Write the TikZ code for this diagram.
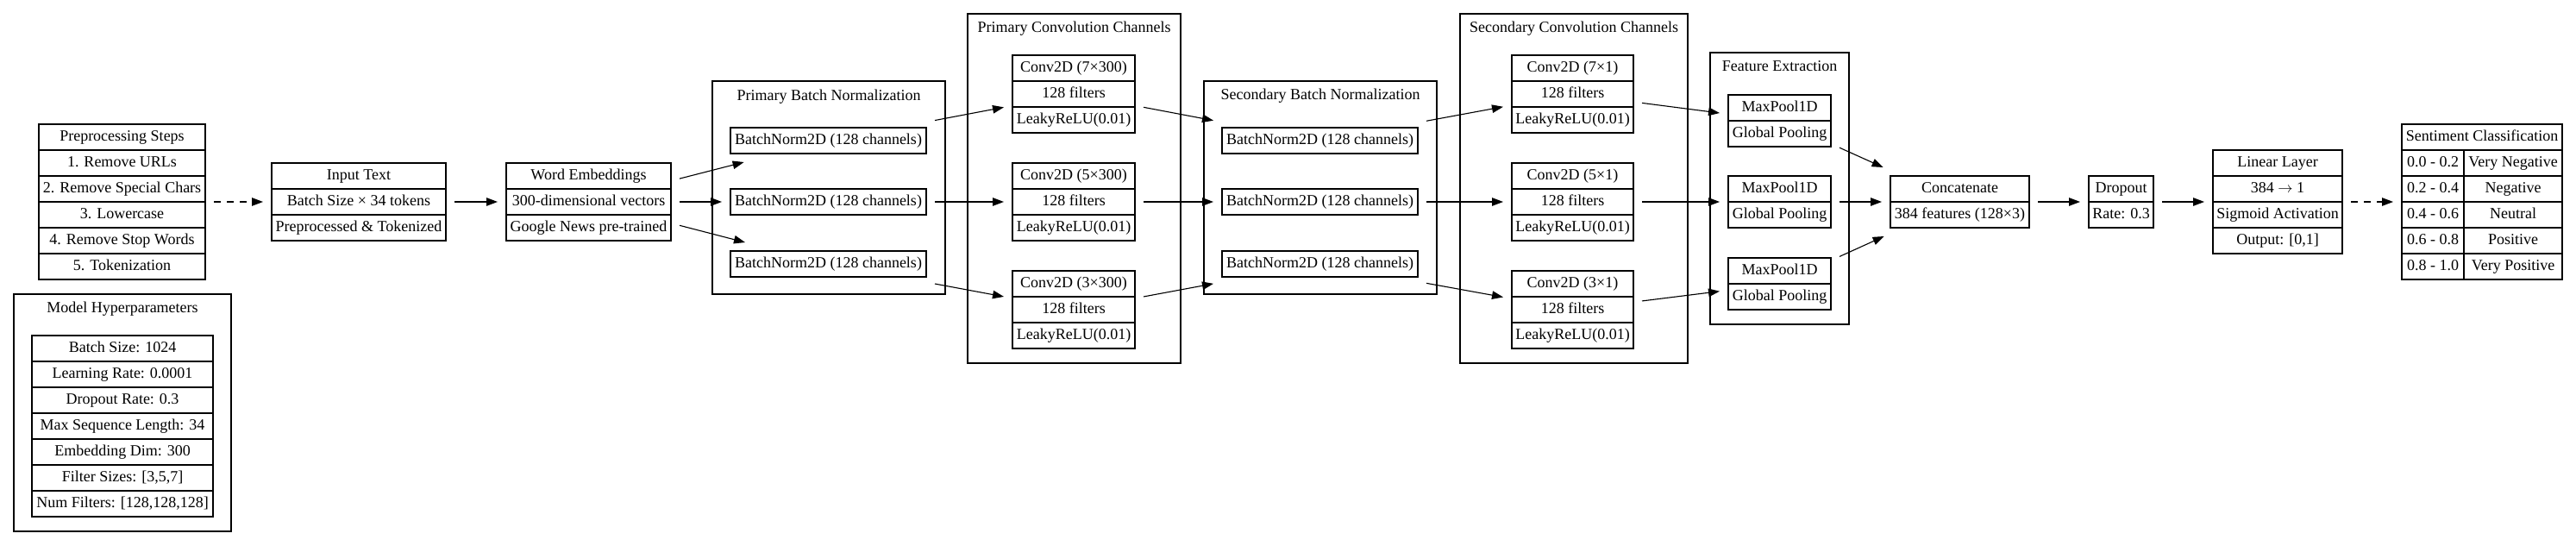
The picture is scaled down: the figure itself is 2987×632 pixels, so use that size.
\documentclass[tikz,border=0pt]{standalone}
\usepackage{fontspec}
\setmainfont{Liberation Serif}
\usetikzlibrary{arrows.meta,fit}

% table of stacked rows: name, centre x, top y, width, rows
\newcommand{\rowtab}[5]{%
  \foreach \txt [count=\i] in {#5} {
    \node[cell,minimum width=#4pt] (#1-\i) at (#2,#3+30*\i-15) {\txt};
    \coordinate (#1-end) at (#2,#3+30*\i);
  }
  \node[grp,fit=(#1-1)(#1-end)] (#1) {};
}

\begin{document}
\begin{tikzpicture}[x=1pt,y=-1pt,
  font=\fontsize{18}{21.6}\selectfont,
  cell/.style={draw,line width=1.1pt,minimum height=30pt,inner sep=0pt,outer sep=0pt,text height=12.5pt,text depth=4pt},
  grp/.style={inner sep=0pt,outer sep=10pt},
  clus/.style={draw,line width=1.1pt,inner sep=0pt},
  ttl/.style={inner sep=0pt,text height=12.5pt,text depth=4pt},
  flow/.style={-{Triangle[length=13pt,width=9.5pt]},line width=1.1pt},
  dflow/.style={flow,dash pattern=on 8pt off 7pt}]
\useasboundingbox (0,0) rectangle (2987,632);

% clusters
\node[clus,fit={(16,341)(268,616)}] (hypC) {};
\node[ttl] (hypT) at (142,358) {Model Hyperparameters};
\node[clus,fit={(826,94)(1096,341)}] (pbnC) {};
\node[ttl] (pbnT) at (961,112) {Primary Batch Normalization};
\node[clus,fit={(1122,16)(1369,421)}] (pcvC) {};
\node[ttl] (pcvT) at (1245.5,33) {Primary Convolution Channels};
\node[clus,fit={(1396,94)(1666,341)}] (sbnC) {};
\node[ttl] (sbnT) at (1531,111) {Secondary Batch Normalization};
\node[clus,fit={(1693,16)(1957,421)}] (scvC) {};
\node[ttl] (scvT) at (1825,33) {Secondary Convolution Channels};
\node[clus,fit={(1983,61)(2144,376)}] (feC) {};
\node[ttl] (feT) at (2063.5,78) {Feature Extraction};

% input side
\rowtab{pre}{141.5}{144}{193}{Preprocessing Steps,1. Remove URLs,2. Remove Special Chars,3. Lowercase,4. Remove Stop Words,5. Tokenization}
\rowtab{hyp}{142}{389}{210}{Batch Size: 1024,Learning Rate: 0.0001,Dropout Rate: 0.3,Max Sequence Length: 34,Embedding Dim: 300,{Filter Sizes: [3,5,7]},{Num Filters: [128,128,128]}}
\rowtab{inp}{416}{189}{202}{Input Text,Batch Size × 34 tokens,Preprocessed \& Tokenized}
\rowtab{we}{682.5}{189}{191}{Word Embeddings,300-dimensional vectors,Google News pre-trained}

% three branches
\foreach \k/\ty/\by/\my/\f in {1/64/148/110/7,2/189/219/204/5,3/314/291/299/3} {
  \rowtab{bn\k}{960.5}{\by}{227}{BatchNorm2D (128 channels)}
  \rowtab{cv\k}{1245}{\ty}{142}{Conv2D (\f×300),128 filters,LeakyReLU(0.01)}
  \rowtab{sbn\k}{1530.5}{\by}{227}{BatchNorm2D (128 channels)}
  \rowtab{scv\k}{1823.5}{\ty}{141}{Conv2D (\f×1),128 filters,LeakyReLU(0.01)}
  \rowtab{mp\k}{2063.5}{\my}{119}{MaxPool1D,Global Pooling}
}

% head
\rowtab{cat}{2272.5}{204}{161}{Concatenate,384 features (128×3)}
\rowtab{drop}{2459.5}{204}{75}{Dropout,Rate: 0.3}
\rowtab{lin}{2641}{174}{150}{Linear Layer,384 $\rightarrow$ 1,Sigmoid Activation,{Output: [0,1]}}

% sentiment classes
\node[cell,minimum width=186pt] (sent-1) at (2878,159) {Sentiment Classification};
\foreach \lo/\cls [count=\i] in {0.0 - 0.2/Very Negative,0.2 - 0.4/Negative,0.4 - 0.6/Neutral,0.6 - 0.8/Positive,0.8 - 1.0/Very Positive} {
  \node[cell,minimum width=72pt] (sent-l\i) at (2821,159+30*\i) {\lo};
  \node[cell,minimum width=114pt] (sent-r\i) at (2914,159+30*\i) {\cls};
}
\coordinate (sent-end) at (2878,324);
\node[grp,fit=(sent-1)(sent-end)] (sent) {};

% connectors
\draw[dflow] (pre) -- (inp);
\draw[flow] (inp) -- (we);
\foreach \k in {1,2,3} {
  \draw[flow] (we) -- (bn\k);
  \draw[flow] (bn\k) -- (cv\k);
  \draw[flow] (cv\k) -- (sbn\k);
  \draw[flow] (sbn\k) -- (scv\k);
  \draw[flow] (scv\k) -- (mp\k);
  \draw[flow] (mp\k) -- (cat);
}
\draw[flow] (cat) -- (drop);
\draw[flow] (drop) -- (lin);
\draw[dflow] (lin) -- (sent);
\end{tikzpicture}
\end{document}
